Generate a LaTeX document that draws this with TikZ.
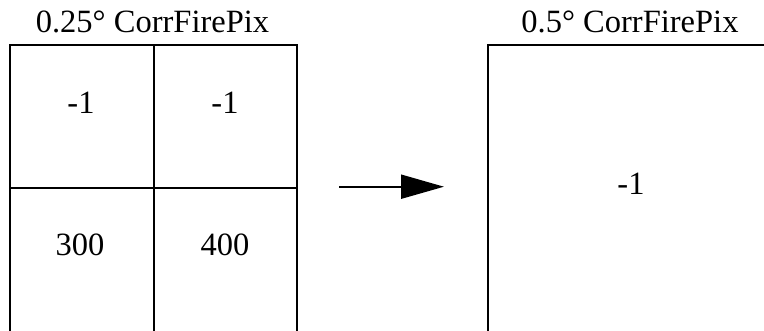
\documentclass[tikz,border=0pt]{standalone}
\usepackage{fontspec}
\setmainfont{Liberation Serif}
\usetikzlibrary{arrows.meta}
\begin{document}
\begin{tikzpicture}[x=1pt,y=1pt,
  cell/.style={draw=black,line width=2pt,minimum width=143.5pt,minimum height=143pt,inner sep=0pt,anchor=north west},
  bigcell/.style={draw=black,line width=2pt,minimum width=300pt,minimum height=300pt,inner sep=0pt,anchor=north west},
  lbl/.style={inner sep=0pt,font=\fontsize{32.5}{38}\selectfont},
  arr/.style={line width=2pt,-{Triangle[length=43pt,width=24pt]}}]
\useasboundingbox (0,0) rectangle (764,330);
\clip (0,0) rectangle (764,330);
\fill[white] (0,0) rectangle (764,330);
% left grid
\node[cell] (c11) at (9,286) {};
\node[cell] (c12) at (152.5,286) {};
\node[cell,minimum height=160pt] (c21) at (9,143) {};
\node[cell,minimum height=160pt] (c22) at (152.5,143) {};
% right box
\node[bigcell] (r) at (487,286) {};
% titles
\node[lbl,anchor=base] (t1) at (152.5,297) {0.25° CorrFirePix};
\node[lbl,anchor=base] (t2) at (630,297) {0.5° CorrFirePix};
% values
\node[lbl] (v11) at (81,227) {-1};
\node[lbl] (v12) at (225,227) {-1};
\node[lbl] (v21) at (80,85.5) {300};
\node[lbl] (v22) at (225,85.5) {400};
\node[lbl] (vr) at (631,146.5) {-1};
% arrow
\coordinate (a0) at (339,143.3);
\coordinate (a1) at (444,143.3);
\draw[arr] (a0) -- (a1);
\end{tikzpicture}
\end{document}
